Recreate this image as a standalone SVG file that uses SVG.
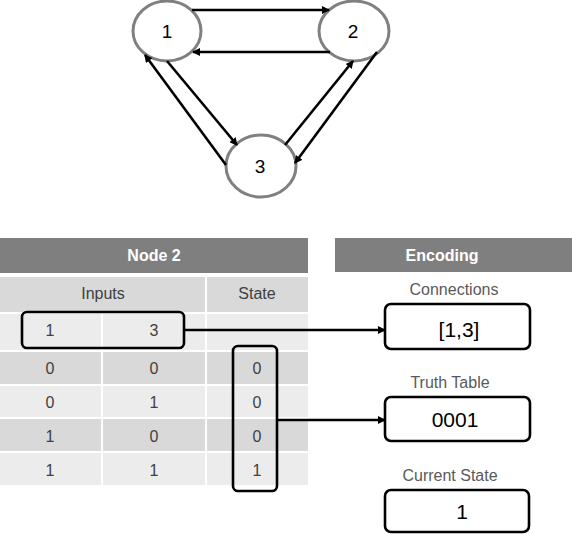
<svg xmlns="http://www.w3.org/2000/svg" width="572" height="534" viewBox="0 0 572 534">
<defs>
<marker id="ah" markerWidth="8" markerHeight="8" refX="7" refY="4" orient="auto" markerUnits="userSpaceOnUse">
<path d="M0,0 L8,4 L0,8 Z" fill="#000"/>
</marker>
<style>
.gn{fill:#fff;stroke:#808080;stroke-width:3}
.gl{font-family:"Liberation Sans",Arial,sans-serif;font-size:19px;fill:#000;text-anchor:middle}
.e{stroke:#000;stroke-width:2.6;fill:none;marker-end:url(#ah)}
.hd{fill:#7f7f7f}
.ht{font-family:"Liberation Sans",Arial,sans-serif;font-size:16px;font-weight:bold;fill:#fff;text-anchor:middle}
.dk{fill:#d9d9d9}
.lt{fill:#ececec}
.tt{font-family:"Liberation Sans",Arial,sans-serif;font-size:16px;fill:#404040;text-anchor:middle}
.lb{font-family:"Liberation Sans",Arial,sans-serif;font-size:16px;fill:#595959;text-anchor:middle}
.bx{fill:#fff;stroke:#000;stroke-width:2.6}
.hl{fill:none;stroke:#000;stroke-width:2.6}
.bt{font-family:"Liberation Sans",Arial,sans-serif;font-size:21px;fill:#000;text-anchor:middle}
</style>
</defs>
<rect width="572" height="534" fill="#fff"/>
<g id="node1"><ellipse class="gn" cx="167" cy="31" rx="34" ry="30"/><text class="gl" x="167" y="38">1</text></g>
<g id="node2"><ellipse class="gn" cx="354" cy="31" rx="35" ry="30"/><text class="gl" x="353" y="38">2</text></g>
<g id="node3"><ellipse class="gn" cx="261" cy="166" rx="35" ry="31"/><text class="gl" x="260" y="173">3</text></g>
<g id="table">
<rect class="hd" x="0" y="238" width="308" height="35"/>
<text class="ht" x="154" y="261">Node 2</text>
<rect class="dk" x="0" y="277" width="205" height="35"/>
<rect class="dk" x="207" y="277" width="101" height="35"/>
<text class="tt" x="103" y="299">Inputs</text>
<text class="tt" x="257" y="299">State</text>
<rect class="lt" x="0" y="314" width="101" height="36"/>
<rect class="lt" x="103" y="314" width="102" height="36"/>
<rect class="lt" x="207" y="314" width="101" height="36"/>
<text class="tt" x="50" y="336">1</text>
<text class="tt" x="154" y="336">3</text>
<rect class="dk" x="0" y="352" width="101" height="32"/>
<rect class="dk" x="103" y="352" width="102" height="32"/>
<rect class="dk" x="207" y="352" width="101" height="32"/>
<text class="tt" x="50" y="374">0</text><text class="tt" x="154" y="374">0</text><text class="tt" x="257" y="374">0</text>
<rect class="lt" x="0" y="386" width="101" height="31"/>
<rect class="lt" x="103" y="386" width="102" height="31"/>
<rect class="lt" x="207" y="386" width="101" height="31"/>
<text class="tt" x="50" y="408">0</text><text class="tt" x="154" y="408">1</text><text class="tt" x="257" y="408">0</text>
<rect class="dk" x="0" y="419" width="101" height="32"/>
<rect class="dk" x="103" y="419" width="102" height="32"/>
<rect class="dk" x="207" y="419" width="101" height="32"/>
<text class="tt" x="50" y="442">1</text><text class="tt" x="154" y="442">0</text><text class="tt" x="257" y="442">0</text>
<rect class="lt" x="0" y="453" width="101" height="32"/>
<rect class="lt" x="103" y="453" width="102" height="32"/>
<rect class="lt" x="207" y="453" width="101" height="32"/>
<text class="tt" x="50" y="476">1</text><text class="tt" x="154" y="476">1</text><text class="tt" x="257" y="476">1</text>
<rect class="hl" x="22" y="312" width="162" height="36" rx="5"/>
<rect class="hl" x="233" y="346" width="44" height="145" rx="5"/>
</g>
<g id="encoding">
<rect class="hd" x="335" y="238" width="237" height="34"/>
<text class="ht" x="442" y="261">Encoding</text>
</g>
<g id="connections">
<text class="lb" x="454" y="295">Connections</text>
<rect class="bx" x="385" y="304" width="145" height="45" rx="6"/>
<text class="bt" x="459" y="337">[1,3]</text>
</g>
<g id="truthtable">
<text class="lb" x="450" y="388">Truth Table</text>
<rect class="bx" x="385" y="397" width="145" height="44" rx="6"/>
<text class="bt" x="455" y="427">0001</text>
</g>
<g id="currentstate">
<text class="lb" x="450" y="481">Current State</text>
<rect class="bx" x="385" y="490" width="144" height="42" rx="6"/>
<text class="bt" x="462" y="519">1</text>
</g>
<g id="connectors">
<line class="e" x1="192" y1="10" x2="329" y2="10"/>
<line class="e" x1="330" y1="52" x2="193" y2="52"/>
<line class="e" x1="167" y1="61" x2="237" y2="145"/>
<line class="e" x1="226" y1="165" x2="145" y2="55"/>
<line class="e" x1="285" y1="145" x2="353" y2="61"/>
<line class="e" x1="377" y1="52" x2="295" y2="163"/>
<line class="e" x1="185" y1="330" x2="385" y2="330"/>
<line class="e" x1="278" y1="420" x2="385" y2="420"/>
</g>
</svg>
